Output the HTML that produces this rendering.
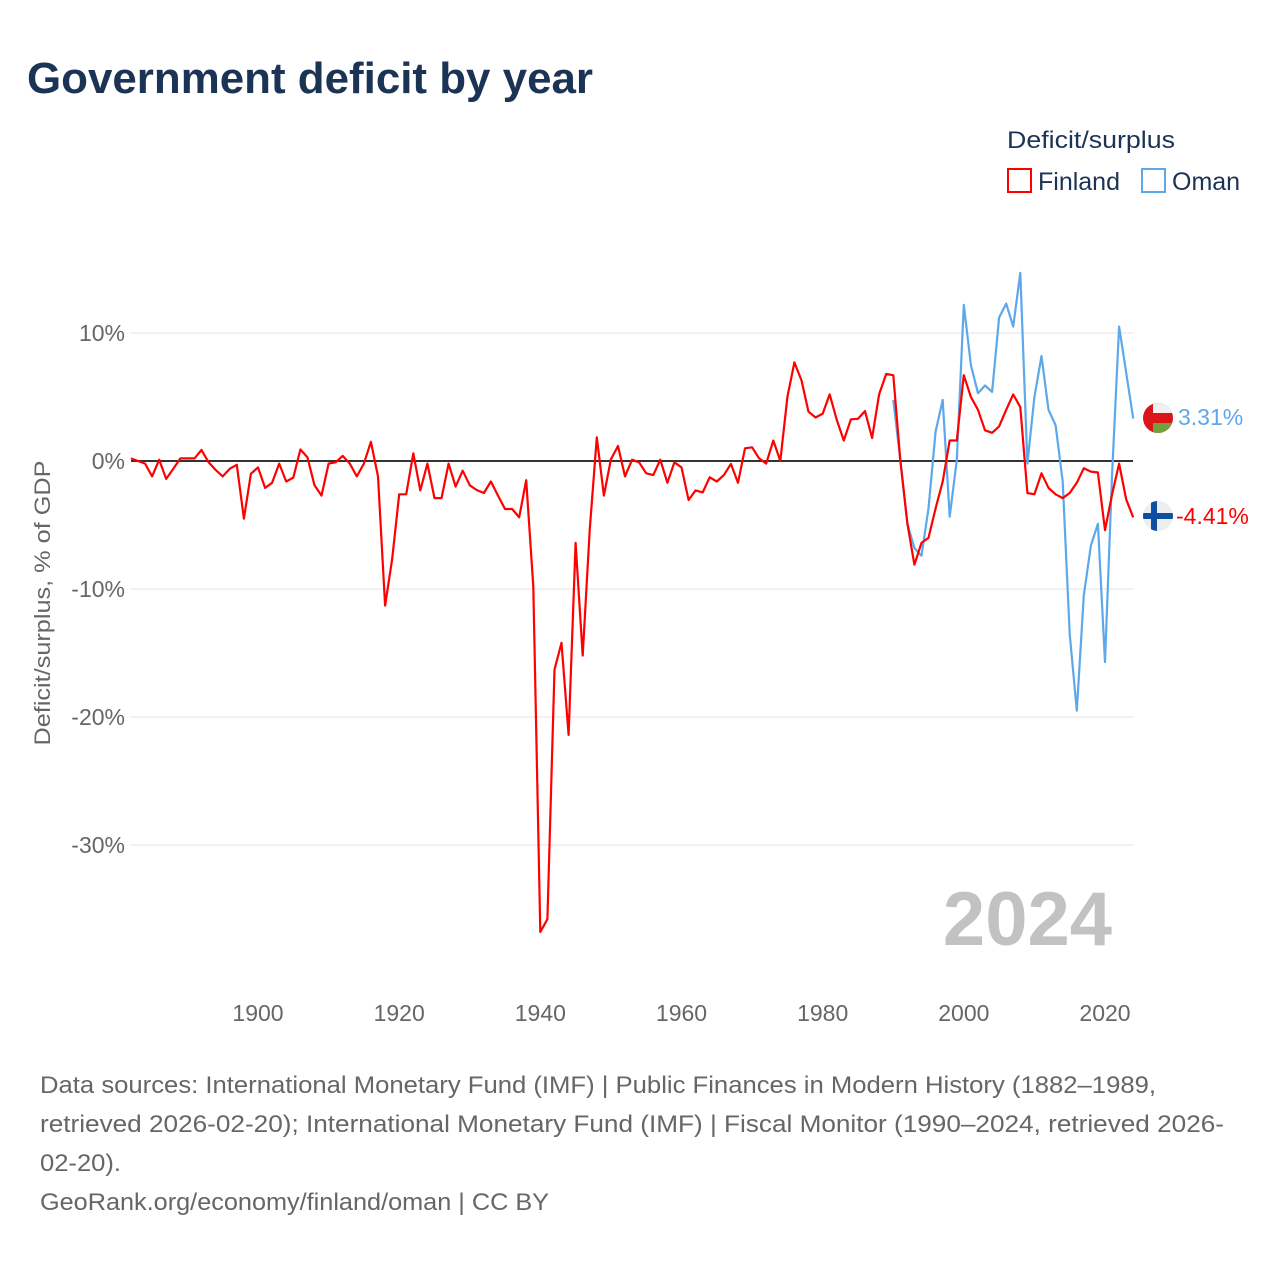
<!DOCTYPE html>
<html><head><meta charset="utf-8"><style>
html,body{margin:0;padding:0;background:#fff;}
svg{display:block;font-family:"Liberation Sans",sans-serif;}
</style></head><body>
<svg id="chart" width="1280" height="1280" viewBox="0 0 1280 1280">
<text x="27" y="93" font-size="44" font-weight="bold" fill="#1b3354" textLength="566" lengthAdjust="spacingAndGlyphs">Government deficit by year</text>
<text x="1007" y="148" font-size="24" fill="#1b3354" textLength="168" lengthAdjust="spacingAndGlyphs">Deficit/surplus</text>
<g><rect x="1008" y="169" width="23" height="23" fill="none" stroke="#ff0000" stroke-width="2"/><text x="1038" y="190" font-size="25" fill="#1b3354">Finland</text></g>
<g><rect x="1142" y="169" width="23" height="23" fill="none" stroke="#5ca8eb" stroke-width="2"/><text x="1172" y="190" font-size="25" fill="#1b3354">Oman</text></g>
<text transform="translate(50,603) rotate(-90)" text-anchor="middle" font-size="22" fill="#666" textLength="285" lengthAdjust="spacingAndGlyphs">Deficit/surplus, % of GDP</text>
<g id="grid"></g>
<text x="1112" y="945" text-anchor="end" font-size="76" font-weight="bold" fill="#c2c2c2">2024</text>
<g id="series"></g>
<g>
<clipPath id="cO"><circle cx="1158" cy="418" r="15"/></clipPath>
<g clip-path="url(#cO)"><rect x="1143" y="403" width="30" height="30" fill="#db161b"/><rect x="1153" y="403" width="20" height="10" fill="#f0f0f0"/><rect x="1153" y="423" width="20" height="10" fill="#6fa23f"/></g>
<text x="1178" y="425" font-size="23" fill="#5ca8eb">3.31%</text></g>
<g>
<clipPath id="cF"><circle cx="1158" cy="516" r="15"/></clipPath>
<g clip-path="url(#cF)"><rect x="1143" y="501" width="30" height="30" fill="#eeeeee"/><rect x="1143" y="513" width="30" height="6" fill="#0d4fa3"/><rect x="1151" y="501" width="6" height="30" fill="#0d4fa3"/></g>
<text x="1176" y="524" font-size="23" fill="#ff0000">-4.41%</text></g>
<g font-size="24" fill="#666">
<text x="40" y="1093" textLength="1116" lengthAdjust="spacingAndGlyphs">Data sources: International Monetary Fund (IMF) | Public Finances in Modern History (1882–1989,</text>
<text x="40" y="1132" textLength="1184" lengthAdjust="spacingAndGlyphs">retrieved 2026-02-20); International Monetary Fund (IMF) | Fiscal Monitor (1990–2024, retrieved 2026-</text>
<text x="40" y="1171" textLength="81" lengthAdjust="spacingAndGlyphs">02-20).</text>
<text x="40" y="1210" textLength="509" lengthAdjust="spacingAndGlyphs">GeoRank.org/economy/finland/oman | CC BY</text>
</g>
</svg>
<script>
const finlandStart = 1882;
const finlandValues = [0.2,0.0,-0.2,-1.2,0.1,-1.4,-0.6,0.2,0.2,0.2,0.86,-0.1,-0.7,-1.2,-0.6,-0.3,-4.5,-1.0,-0.5,-2.1,-1.7,-0.2,-1.6,-1.3,0.9,0.3,-1.9,-2.7,-0.2,-0.1,0.4,-0.2,-1.2,-0.2,1.5,-1.2,-11.3,-7.7,-2.6,-2.6,0.6,-2.3,-0.2,-2.9,-2.9,-0.2,-2.0,-0.76,-1.9,-2.27,-2.5,-1.6,-2.7,-3.75,-3.75,-4.4,-1.5,-9.8,-36.8,-35.8,-16.3,-14.2,-21.4,-6.4,-15.2,-5.4,1.85,-2.7,0.13,1.17,-1.2,0.1,-0.1,-0.96,-1.1,0.1,-1.7,-0.1,-0.5,-3.05,-2.3,-2.45,-1.27,-1.6,-1.1,-0.23,-1.7,0.99,1.07,0.2,-0.2,1.6,0.0,5.0,7.7,6.3,3.85,3.4,3.7,5.2,3.2,1.6,3.26,3.3,3.9,1.8,5.2,6.8,6.7,0.08,-4.9,-8.1,-6.4,-6.0,-3.7,-1.6,1.6,1.6,6.7,5.0,4.0,2.4,2.2,2.7,4.0,5.2,4.2,-2.5,-2.6,-0.96,-2.1,-2.6,-2.9,-2.5,-1.7,-0.57,-0.83,-0.9,-5.4,-2.6,-0.2,-3.0,-4.41];
const omanStart = 1990;
const omanValues = [4.77,0.08,-4.9,-6.8,-7.4,-3.7,2.3,4.77,-4.35,0.08,12.2,7.5,5.3,5.9,5.4,11.2,12.3,10.5,14.7,-0.2,5.0,8.2,4.0,2.8,-1.6,-13.5,-19.5,-10.5,-6.6,-4.9,-15.7,-1.0,10.5,6.9,3.31];
const yTicks = [10,0,-10,-20,-30];
const yTickLabels = ["10%","0%","-10%","-20%","-30%"];
const xTicks = [1900,1920,1940,1960,1980,2000,2020];

const NS="http://www.w3.org/2000/svg";
const x = yr => 258 + (yr-1900)*(1105-258)/120;
const y = v => 461 - v*12.8;
const grid=document.getElementById('grid');
const series=document.getElementById('series');
function mk(tag,attrs,parent){const e=document.createElementNS(NS,tag);for(const k in attrs)e.setAttribute(k,attrs[k]);parent.appendChild(e);return e;}
yTicks.forEach((t,i)=>{
  if(t!==0){
    const l=mk('line',{x1:131,x2:1133,y1:y(t),y2:y(t),stroke:'#e4e4e4','stroke-width':1},grid);
    
    
  }
  const tx=mk('text',{x:125,y:y(t)+8,'text-anchor':'end','font-size':23,fill:'#666'},grid);
  tx.textContent=yTickLabels[i];
  
  
});
xTicks.forEach(t=>{
  const tx=mk('text',{x:x(t),y:1021,'text-anchor':'middle','font-size':23,fill:'#666'},grid);
  tx.textContent=t;
  
  
});
const zl=mk('line',{x1:131,x2:1133,y1:y(0),y2:y(0),stroke:'#333','stroke-width':2},grid);


function line(start,vals,color,name){
  const d=vals.map((v,i)=>(i?'L':'M')+x(start+i).toFixed(1)+','+y(v).toFixed(1)).join('');
  const p=mk('path',{d:d,fill:'none',stroke:color,'stroke-width':2.2,'stroke-linejoin':'round'},series);
  
  
}
line(omanStart,omanValues,'#5ca8eb','oman-line');
line(finlandStart,finlandValues,'#ff0000','finland-line');
</script>
</body></html>
